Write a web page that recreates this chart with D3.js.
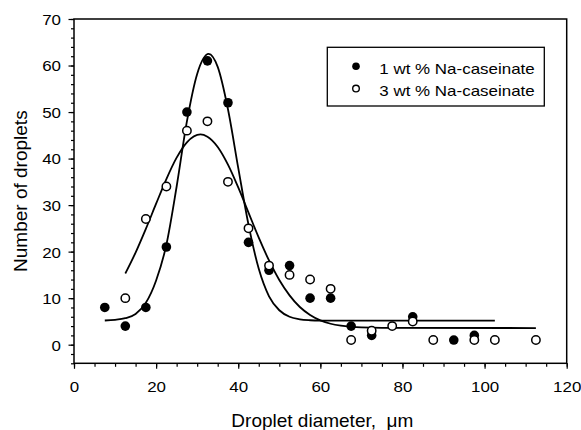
<!DOCTYPE html>
<html>
<head>
<meta charset="utf-8">
<script src="https://cdn.jsdelivr.net/npm/d3@7"></script>
<style>
    body { margin: 0; background: #fff; }
    text { font-family: "Liberation Sans", Arial, sans-serif; fill: #000; }
</style>
</head>
<body>
<div id="chart"></div>
<script>
"use strict";

const SERIES_NAMES = ["1 wt % Na-caseinate", "3 wt % Na-caseinate"];

// measured points
const X_1WT = [7.5, 12.5, 17.5, 22.5, 27.5, 32.5, 37.5, 42.5, 47.5, 52.5, 57.5, 62.5, 67.5, 72.5, 82.5, 92.5, 97.5];
const Y_1WT = [8, 4, 8, 21, 50, 61, 52, 22, 16, 17, 10, 10, 4, 2, 6, 1, 2];
const X_3WT = [12.5, 17.5, 22.5, 27.5, 32.5, 37.5, 42.5, 47.5, 52.5, 57.5, 62.5, 67.5, 72.5, 77.5, 82.5, 87.5, 97.5, 102.5, 112.5];
const Y_3WT = [10, 27, 34, 46, 48, 35, 25, 17, 15, 14, 12, 1, 3, 4, 5, 1, 1, 1, 1];

// fitted curves
const FIT_X_1WT = [7.5, 10, 12.5, 15, 17.5, 20, 22.5, 25, 27.5, 30, 32.8, 35, 37.5, 40, 42.5, 45, 47.5, 50, 52.5, 55, 57.5, 60, 65, 102.5];
const FIT_Y_1WT = [5.2, 5.35, 5.7, 6.6, 9, 13.8, 21.5, 34, 48, 58.2, 62.5, 59.7, 50.6, 38, 25.8, 16.3, 10.4, 7.4, 6.0, 5.45, 5.25, 5.18, 5.16, 5.16];
const FIT_X_3WT = [12.5, 15, 17.5, 20, 22.5, 25, 27.5, 30.8, 32.5, 35, 37.5, 40, 42.5, 45, 47.5, 50, 52.5, 55, 57.5, 60, 62.5, 65, 67.5, 70, 75, 112.5];
const FIT_Y_3WT = [15.3, 19.8, 24.9, 30.3, 35.6, 40.2, 43.5, 45.2, 44.7, 42.5, 38.7, 33.8, 28.4, 23.0, 18.1, 13.9, 10.6, 8.1, 6.4, 5.24, 4.5, 4.08, 3.84, 3.7, 3.6, 3.58];

const X_MAJOR = [0, 20, 40, 60, 80, 100, 120];
const Y_MAJOR = [0, 10, 20, 30, 40, 50, 60, 70];

const WIDTH = 581, HEIGHT = 430;
const M = {left: 74, right: 14.3, top: 19, bottom: 66.7};
const STRETCH = 1.13;

function zip(xs, ys) {
    return xs.map(function (x, i) {
        return {x: x, y: ys[i]};
    });
}

function buildChart() {
    const svg = d3.select("#chart").append("svg")
        .attr("width", WIDTH)
        .attr("height", HEIGHT);

    const x = d3.scaleLinear().domain([0, 120]).range([M.left, WIDTH - M.right]);
    const y = d3.scaleLinear().domain([-4, 70]).range([HEIGHT - M.bottom, M.top]);

    // minor ticks
    svg.append("g")
        .attr("transform", "translate(0," + y(-4) + ")")
        .call(d3.axisBottom(x).tickValues(d3.range(0, 121, 5)).tickSize(3.5).tickFormat(""))
        .call(function (g) { g.select(".domain").remove(); })
        .selectAll("line").attr("stroke-width", 1.2);
    svg.append("g")
        .attr("transform", "translate(" + x(0) + ",0)")
        .call(d3.axisLeft(y).tickValues(d3.range(-4, 71, 2)).tickSize(3).tickFormat(""))
        .call(function (g) { g.select(".domain").remove(); })
        .selectAll("line").attr("stroke-width", 1.2);

    // major ticks + labels
    const xAxis = svg.append("g")
        .attr("transform", "translate(0," + y(-4) + ")")
        .call(d3.axisBottom(x).tickValues(X_MAJOR).tickSize(5.5).tickFormat(d3.format("d")));
    xAxis.select(".domain").remove();
    xAxis.selectAll("line").attr("stroke-width", 1.2);
    xAxis.selectAll("text")
        .attr("y", 28.4)
        .attr("dy", 0)
        .attr("transform", "scale(" + STRETCH + ",1)")
        .style("font-size", "15px")
        .style("font-family", "'Liberation Sans', Arial, sans-serif");

    const yAxis = svg.append("g")
        .attr("transform", "translate(" + x(0) + ",0)")
        .call(d3.axisLeft(y).tickValues(Y_MAJOR).tickSize(5.5).tickFormat(d3.format("d")));
    yAxis.select(".domain").remove();
    yAxis.selectAll("line").attr("stroke-width", 1.2);
    yAxis.selectAll("text")
        .attr("x", -13 / STRETCH)
        .attr("dy", "0.36em")
        .attr("transform", "scale(" + STRETCH + ",1)")
        .style("font-size", "15px")
        .style("font-family", "'Liberation Sans', Arial, sans-serif");

    // frame
    svg.append("rect")
        .attr("x", x(0))
        .attr("y", y(70))
        .attr("width", x(120) - x(0))
        .attr("height", y(-4) - y(70))
        .attr("fill", "none")
        .attr("stroke", "#000")
        .attr("stroke-width", 1.5);

    // fits
    const line = d3.line()
        .x(function (d) { return x(d.x); })
        .y(function (d) { return y(d.y); })
        .curve(d3.curveMonotoneX);
    [zip(FIT_X_1WT, FIT_Y_1WT), zip(FIT_X_3WT, FIT_Y_3WT)].forEach(function (pts) {
        svg.append("path")
            .datum(pts)
            .attr("d", line)
            .attr("fill", "none")
            .attr("stroke", "#000")
            .attr("stroke-width", 1.8);
    });

    svg.append("g").selectAll("circle")
        .data(zip(X_1WT, Y_1WT))
        .enter()
        .append("circle")
        .attr("cx", function (d) { return x(d.x); })
        .attr("cy", function (d) { return y(d.y); })
        .attr("r", 4.8)
        .attr("fill", "#000");

    svg.append("g").selectAll("circle")
        .data(zip(X_3WT, Y_3WT))
        .enter()
        .append("circle")
        .attr("cx", function (d) { return x(d.x); })
        .attr("cy", function (d) { return y(d.y); })
        .attr("r", 4.2)
        .attr("fill", "#fff")
        .attr("stroke", "#000")
        .attr("stroke-width", 1.5);

    // legend
    const lg = svg.append("g");
    lg.append("rect")
        .attr("x", 327.3).attr("y", 47.3)
        .attr("width", 217).attr("height", 58.7)
        .attr("fill", "#fff")
        .attr("stroke", "#000")
        .attr("stroke-width", 1.3);
    SERIES_NAMES.forEach(function (name, i) {
        const cy = 66.3 + i * 22.3;
        lg.append("circle")
            .attr("cx", 356).attr("cy", cy)
            .attr("r", i === 0 ? 3.8 : 3.3)
            .attr("fill", i === 0 ? "#000" : "#fff")
            .attr("stroke", "#000")
            .attr("stroke-width", i === 0 ? 0 : 1.4);
        lg.append("text")
            .attr("transform", "translate(379.3," + (cy + 7.6) + ") scale(" + STRETCH + ",1)")
            .style("font-size", "15px")
            .text(name);
    });

    // titles
    svg.append("text")
        .attr("x", (x(0) + x(120)) / 2 + 2)
        .attr("y", 427)
        .attr("text-anchor", "middle")
        .style("font-size", "19px")
        .text("Droplet diameter,\u00a0 \u03bcm");
    svg.append("text")
        .attr("transform", "translate(27," + ((y(-4) + y(70)) / 2) + ") rotate(-90)")
        .attr("text-anchor", "middle")
        .style("font-size", "19px")
        .text("Number of droplets");
}

buildChart();
</script>
</body>
</html>
